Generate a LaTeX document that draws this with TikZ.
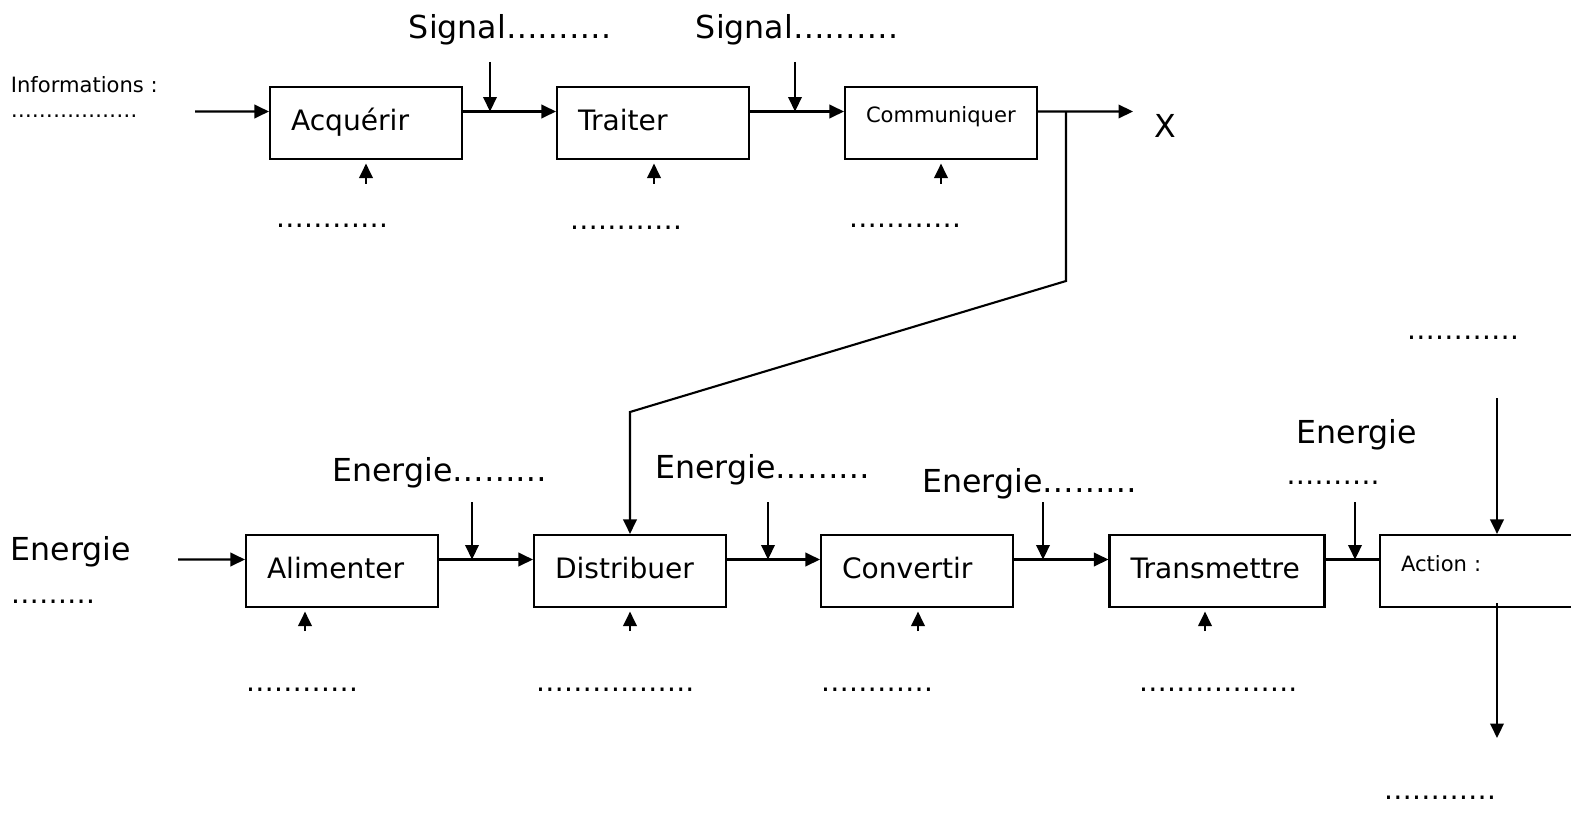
\documentclass[tikz,border=0pt]{standalone}
\usepackage{fontspec}
\setmainfont{DejaVu Sans}
\usetikzlibrary{arrows.meta}
\newcommand\grand{\fontsize{18}{21}\selectfont}
\newcommand\moyen{\fontsize{16}{19}\selectfont}
\newcommand\petit{\fontsize{12}{14}\selectfont}
\tikzset{
  bloc/.style={draw, minimum height=1.44cm, text width=3cm, inner xsep=0.42cm,
    inner ysep=0pt, align=left, font=\moyen, text height=12pt, text depth=4pt},
  petitbloc/.style={bloc, font=\petit, text height=8pt, text depth=8pt},
  lien/.style={yshift=2.3mm},
}
\begin{document}
\begin{tikzpicture}[x=0.02cm, y=-0.02cm, line width=1.2pt,
  >={Triangle[length=2.9mm,width=2.7mm]}]
\useasboundingbox (0,0) rectangle (1571,814);
% Chaine d'information
\node[anchor=west, font=\petit] (Info1) at (4,85) {Informations :};
\node[anchor=west, font=\petit] (Info2) at (4,116) {………………};
\coordinate (Iin) at (195,111.5);
\draw (366,123) node[bloc] (A1) {Acquérir};
\draw (653,123) node[bloc] (A2) {Traiter};
\draw (941,123) node[petitbloc] (A3) {Communiquer};
\draw [->] (Iin) -- ([lien]A1.west);
\draw [->] ([lien]A1.east) -- ([lien]A2.west);
\draw [->] ([lien]A2.east) -- ([lien]A3.west);
% Signaux
\node[font=\grand] (SL1) at (510,30) {Signal……….};
\node[font=\grand] (SL2) at (797,30) {Signal……….};
\coordinate (S1) at (490,62);
\coordinate (S2) at (795,62);
\draw [->] (S1) -- (S1 |- Iin);
\draw [->] (S2) -- (S2 |- Iin);
% Entrees sous les blocs
\coordinate (a1) at (366,184);
\coordinate (a2) at (654,184);
\coordinate (a3) at (941,184);
\draw [->, shorten >=2pt] (a1) -- (a1 |- A1.south);
\draw [->, shorten >=2pt] (a2) -- (a2 |- A2.south);
\draw [->, shorten >=2pt] (a3) -- (a3 |- A3.south);
\node[font=\moyen] (DA1) at (332,226) {…………};
\node[font=\moyen] (DA2) at (626,228) {…………};
\node[font=\moyen] (DA3) at (905,226) {…………};
% Sortie X et ordres
\coordinate (Xo) at (1133,111.5);
\coordinate (F) at (1066,111.5);
\coordinate (K1) at (1066,281);
\coordinate (K2) at (630,412);
\node[font=\grand] (X) at (1165,126) {X};
\draw [->] ([lien]A3.east) -- (Xo);
% Chaine d'energie
\node[anchor=west, font=\grand] (E0) at (4,552) {Energie};
\node[anchor=west, font=\moyen] (E0d) at (4,602) {………};
\coordinate (Ein) at (178,559.5);
\draw (342,571) node[bloc] (B1) {Alimenter};
\draw (630,571) node[bloc] (B2) {Distribuer};
\draw (917,571) node[bloc] (B3) {Convertir};
\draw (1217,571) node[bloc, text width=3.46cm] (B4) {Transmettre};
\draw (1476,571) node[petitbloc] (B5) {Action :};
\draw [->] (F) -- (K1) -- (K2) -- (B2.north);
\draw [->] (Ein) -- ([lien]B1.west);
\draw [->] ([lien]B1.east) -- ([lien]B2.west);
\draw [->] ([lien]B2.east) -- ([lien]B3.west);
\draw [->] ([lien]B3.east) -- ([lien]B4.west);
\draw ([lien]B4.east) -- ([lien]B5.west);
% Energies
\node[font=\grand] (EL1) at (440,473) {Energie………};
\node[font=\grand] (EL2) at (763,470) {Energie………};
\node[font=\grand] (EL3) at (1030,484) {Energie………};
\node[font=\grand] (EL4) at (1357,435) {Energie};
\node[font=\moyen] (EL4d) at (1333,483) {……….};
\coordinate (e1) at (472,502);
\coordinate (e2) at (768,502);
\coordinate (e3) at (1043,502);
\coordinate (e4) at (1355,502);
\draw [->] (e1) -- (e1 |- Ein);
\draw [->] (e2) -- (e2 |- Ein);
\draw [->] (e3) -- (e3 |- Ein);
\draw [->] (e4) -- (e4 |- Ein);
% Entrees sous les blocs
\coordinate (b1) at (305,631);
\coordinate (b2) at (630,631);
\coordinate (b3) at (918,631);
\coordinate (b4) at (1205,631);
\draw [->, shorten >=2pt] (b1) -- (b1 |- B1.south);
\draw [->, shorten >=2pt] (b2) -- (b2 |- B2.south);
\draw [->, shorten >=2pt] (b3) -- (b3 |- B3.south);
\draw [->, shorten >=2pt] (b4) -- (b4 |- B4.south);
\node[font=\moyen] (DB1) at (302,690) {…………};
\node[font=\moyen] (DB2) at (615,690) {……………..};
\node[font=\moyen] (DB3) at (877,690) {…………};
\node[font=\moyen] (DB4) at (1218,690) {……………..};
% Action
\node[font=\moyen] (DT) at (1463,338) {…………};
\node[font=\moyen] (DBas) at (1440,798) {…………};
\coordinate (T1) at (1497,398);
\coordinate (T2) at (1497,738);
\draw [->] (T1) -- (T1 |- B5.north);
\draw [->] ([yshift=1mm]T2 |- B5.south) -- (T2);
\end{tikzpicture}
\end{document}
